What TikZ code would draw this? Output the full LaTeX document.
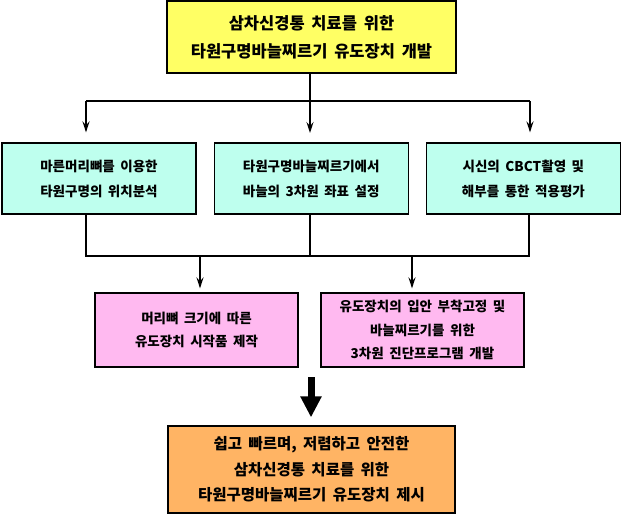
\documentclass[tikz,border=0pt]{standalone}
\usepackage{fontspec}
\setmainfont{Noto Sans CJK KR}[WordSpace=1.8]
\usetikzlibrary{arrows.meta}
\usetikzlibrary{positioning}
\definecolor{goalyellow}{RGB}{255,255,100}
\definecolor{studycyan}{RGB}{190,255,238}
\definecolor{makepink}{RGB}{255,185,240}
\definecolor{resultorange}{RGB}{255,180,100}
\begin{document}
\begin{tikzpicture}[x=1pt,y=-1pt]
\tikzstyle{box}=[rectangle,draw=black,line width=1.2pt,align=center,inner sep=0pt]
\tikzstyle{goal}=[box,fill=goalyellow,minimum width=289pt,minimum height=72pt,
font=\fontsize{16.5}{28}\bfseries]
\tikzstyle{study}=[box,fill=studycyan,minimum width=194pt,minimum height=71pt,
font=\fontsize{13.5}{25}\bfseries]
\tikzstyle{make}=[box,fill=makepink,minimum width=203pt,minimum height=74pt,
font=\fontsize{13.5}{23.5}\bfseries]
\tikzstyle{result}=[box,fill=resultorange,minimum width=287pt,minimum height=87pt,
font=\fontsize{15.5}{25.5}\bfseries]
\tikzstyle{link}=[line width=2pt]
\tikzstyle{down}=[link,-{Stealth[length=11pt,width=7pt,inset=4pt]}]
\tikzstyle{bigarrow}=[line width=7pt,-{Triangle[length=21pt,width=20pt]}]
\useasboundingbox (0,0) rectangle (621,515);
\node[goal] (goal) at (311.5,37) {삼차신경통 치료를 위한\\타원구명바늘찌르기 유도장치 개발};
\node[study] (skull) at (99,178.5) {마른머리뼈를 이용한\\타원구명의 위치분석};
\node[study] (needle) [right=17pt of skull] {타원구명바늘찌르기에서\\바늘의 3차원 좌표 설정};
\node[study] (cadaver) [right=17pt of needle] {시신의 CBCT촬영 및\\해부를 통한 적용평가};
\node[make] (proto) at (196.5,330) {머리뼈 크기에 따른\\유도장치 시작품 제작};
\node[make] (program) at (422.5,330) {유도장치의 입안 부착고정 및\\바늘찌르기를 위한\\3차원 진단프로그램 개발};
\node[result] (result) at (311.5,469.5) {쉽고 빠르며, 저렴하고 안전한\\삼차신경통 치료를 위한\\타원구명바늘찌르기 유도장치 제시};
\coordinate (topl) at (86,101);
\coordinate (topr) at (530,101);
\coordinate (botl) at (86,256);
\coordinate (botr) at (529,256);
\coordinate (jl) at (200,256);
\coordinate (jr) at (412,256);
\coordinate (bigtop) at (311,377);
\draw[link] (goal.south -| 310,0) -- (310,101);
\draw[link] (topl) -- (topr);
\draw[down,shorten >=10pt] (topl) -- (topl |- skull.north);
\draw[down,shorten >=10pt] (310,101) -- (310,143);
\draw[down,shorten >=10pt] (topr) -- (topr |- cadaver.north);
\draw[link] (skull.south -| botl) -- (botl) -- (botr) -- (cadaver.south -| botr);
\draw[link] (needle.south -| 310,0) -- (310,256);
\draw[down,shorten >=4pt] (jl) -- (jl |- proto.north);
\draw[down,shorten >=4pt] (jr) -- (jr |- program.north);
\draw[bigarrow,shorten >=8pt] (bigtop) -- (bigtop |- result.north);
\end{tikzpicture}
\end{document}
